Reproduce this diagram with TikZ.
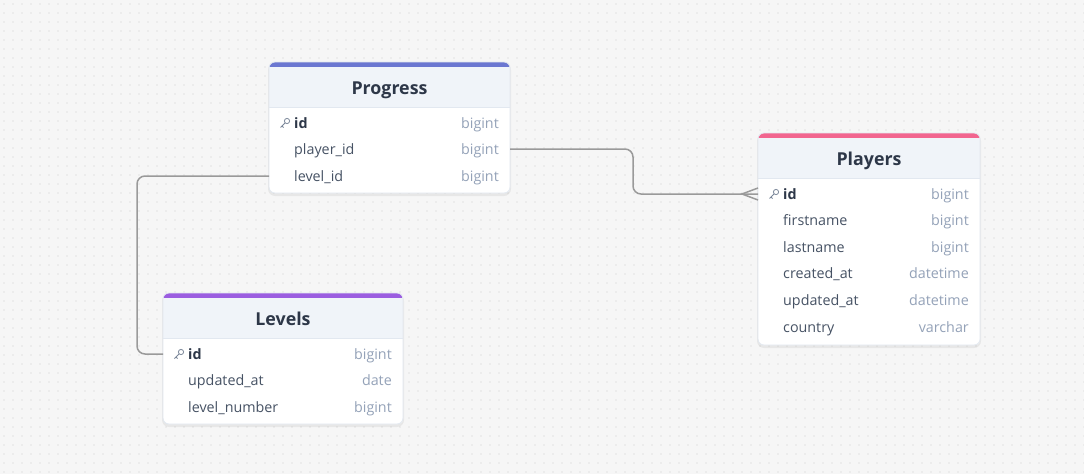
\documentclass[tikz,border=0pt]{standalone}
\usepackage{fontspec}
\setmainfont{Open Sans}
\definecolor{bgc}{HTML}{F6F6F6}
\definecolor{dotc}{HTML}{CBCBCB}
\definecolor{cardline}{HTML}{E2E8F0}
\definecolor{headbg}{HTML}{F0F4F9}
\definecolor{titlec}{HTML}{2D3748}
\definecolor{fieldc}{HTML}{465264}
\definecolor{typec}{HTML}{94A2B8}
\definecolor{connc}{HTML}{9A9A9A}
\definecolor{keyc}{HTML}{7A8699}
\definecolor{progc}{HTML}{6B77D1}
\definecolor{playc}{HTML}{F2658F}
\definecolor{levc}{HTML}{9B5DE0}
\tikzset{
  titletext/.style={font=\fontsize{17.8}{20}\selectfont\bfseries, text=titlec, inner sep=0, anchor=base},
  fieldtext/.style={font=\fontsize{14.3}{17}\selectfont, text=fieldc, anchor=base west, inner sep=0},
  keytext/.style={font=\fontsize{14.3}{17}\selectfont\bfseries, text=titlec, anchor=base west, inner sep=0},
  typetext/.style={font=\fontsize{14.3}{17}\selectfont, text=typec, anchor=base east, inner sep=0},
  conn/.style={draw=connc, line width=1.5pt, rounded corners=8},
}
\newcommand\ertable[8]{%
  \fill[black,opacity=0.06,rounded corners=7] (#2-1,#3+1) rectangle (#4+1,#5+3);
  \node[fill=white, rounded corners=6, minimum width={(#4-#2)*1pt}, minimum height={(#5-#3)*1pt}, inner sep=0, anchor=north west] (#1) at (#2,#3) {};
  \begin{scope}
    \clip[rounded corners=6] (#2,#3) rectangle (#4,#5);
    \fill[headbg] (#2,#3) rectangle (#4,#8);
    \fill[#6] (#2,#3) rectangle (#4,#3+5);
    \draw[cardline, line width=1pt] (#2,#8) -- (#4,#8);
  \end{scope}
  \draw[cardline, rounded corners=6, line width=0.8pt] (#2,#3) rectangle (#4,#5);
  \node[titletext] (#1-title) at ({(#2+#4)/2},{(#3+5+#8)/2+7.5}) {#7};
}
% #1 name, #2 x1, #3 x2, #4 y, #5 field, #6 type
\newcommand\errow[6]{%
  \coordinate (#1-l) at (#2,#4);
  \coordinate (#1-r) at (#3,#4);
  \node[fieldtext] (#1-f) at (#2+25,#4+5) {#5};
  \node[typetext] (#1-t) at (#3-11,#4+5) {#6};
}
\newcommand\erkeyrow[5]{%
  \coordinate (#1-l) at (#2,#4);
  \coordinate (#1-r) at (#3,#4);
  \draw[keyc, line width=0.8pt] (#2+18,#4-2) circle (2.6);
  \draw[keyc, line width=0.8pt] (#2+16.2,#4-0.2) -- (#2+11.5,#4+4.5) (#2+13,#4+3) -- (#2+14.5,#4+4.5);
  \node[keytext] (#1-f) at (#2+25,#4+5) {id};
  \node[typetext] (#1-t) at (#3-11,#4+5) {#5};
}
\begin{document}
\begin{tikzpicture}[x=1pt,y=-1pt]
\fill[bgc] (0,0) rectangle (1084,474);
\useasboundingbox (0,0) rectangle (1084,474);
\foreach \i in {0,...,120} {\foreach \j in {0,...,52} {\fill[dotc] (\i*9+4,\j*9+4) circle (0.55);}}

% Progress
\ertable{progress}{269}{62}{510}{193}{progc}{Progress}{107}
\erkeyrow{p-id}{269}{510}{123}{bigint}
\errow{p-player}{269}{510}{149}{player\_id}{bigint}
\errow{p-level}{269}{510}{176}{level\_id}{bigint}

% Players
\ertable{players}{758}{133}{980}{345}{playc}{Players}{178}
\erkeyrow{pl-id}{758}{980}{194}{bigint}
\errow{pl-first}{758}{980}{220}{firstname}{bigint}
\errow{pl-last}{758}{980}{247}{lastname}{bigint}
\errow{pl-created}{758}{980}{273}{created\_at}{datetime}
\errow{pl-updated}{758}{980}{300}{updated\_at}{datetime}
\errow{pl-country}{758}{980}{327}{country}{varchar}

% Levels
\ertable{levels}{163}{293}{403}{424}{levc}{Levels}{338}
\erkeyrow{l-id}{163}{403}{354}{bigint}
\errow{l-updated}{163}{403}{380}{updated\_at}{date}
\errow{l-number}{163}{403}{407}{level\_number}{bigint}

% connectors
\coordinate (m1) at (633,170);
\coordinate (m2) at (137,260);
\draw[conn] (p-player-r) -| (m1) |- (pl-id-l);
\coordinate (cf) at (742,194);
\draw[connc, line width=1.5pt] (pl-id-l) ++(0,-6) -- (cf) -- ++(16,6);
\draw[conn] (p-level-l) -| (m2) |- (l-id-l);
\end{tikzpicture}
\end{document}
